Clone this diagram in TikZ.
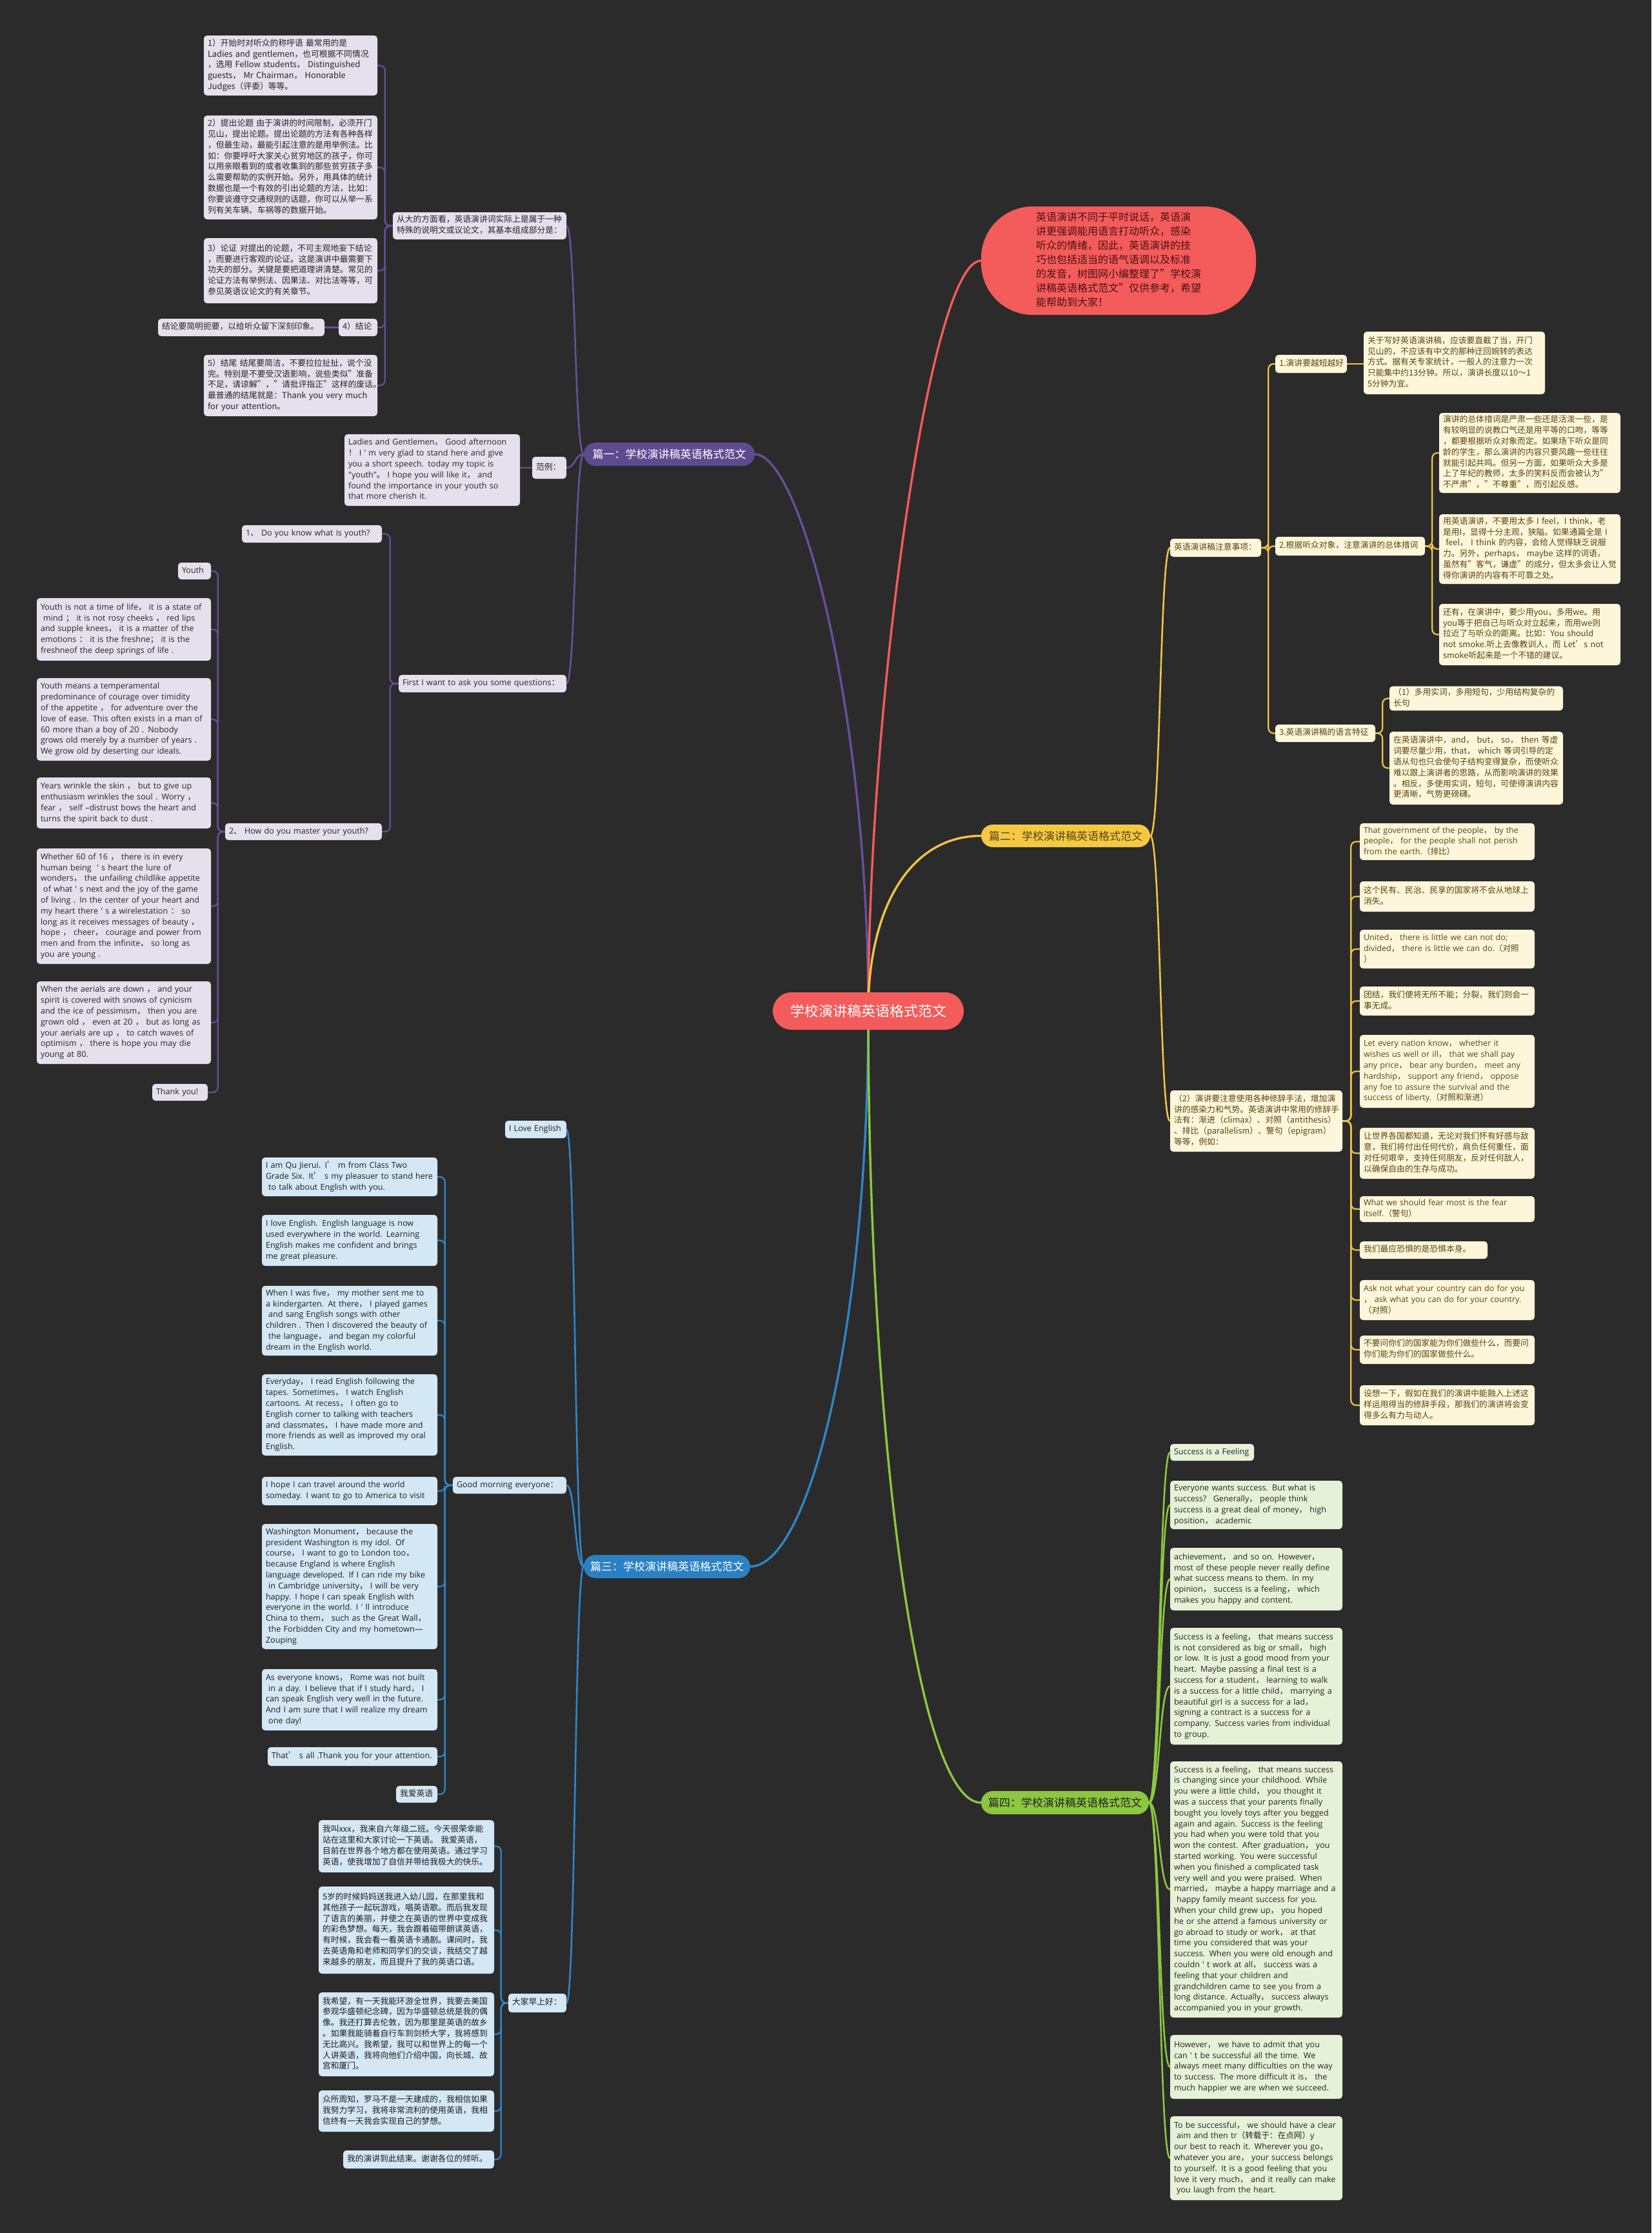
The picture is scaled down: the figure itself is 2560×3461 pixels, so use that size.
\documentclass[tikz,border=0pt]{standalone}
\usepackage{fontspec}
\setmainfont{Noto Sans CJK SC}
\newfontfamily\cjkf{Noto Sans CJK SC}
\newfontfamily\osans{Open Sans}
\usetikzlibrary{calc}
\pgfdeclarelayer{bgl}
\pgfdeclarelayer{edges}
\pgfsetlayers{bgl,edges,main}
\newcommand\fc[1]{{\cjkf #1}}
\catcode`，=13 \protected\def，{\fc{\char"FF0C }}
\catcode`；=13 \protected\def；{\fc{\char"FF1B }}
\catcode`：=13 \protected\def：{\fc{\char"FF1A }}
\catcode`（=13 \protected\def（{\fc{\char"FF08 }}
\catcode`）=13 \protected\def）{\fc{\char"FF09 }}
\catcode`、=13 \protected\def、{\fc{\char"3001 }}
\catcode`！=13 \protected\def！{\fc{\char"FF01 }}
\catcode`。=13 \protected\def。{\fc{\char"3002 }}
\definecolor{bgc}{HTML}{2B2B2B}
\definecolor{pline}{HTML}{64519A}
\definecolor{pfill}{HTML}{E4E0EC}
\definecolor{ptxt}{HTML}{262626}
\definecolor{ppill}{HTML}{5E4B8F}
\definecolor{yline}{HTML}{F0C445}
\definecolor{yfill}{HTML}{FDF6DA}
\definecolor{ytxt}{HTML}{5A4512}
\definecolor{ypill}{HTML}{F4C843}
\definecolor{bline}{HTML}{2E86C7}
\definecolor{bfill}{HTML}{D4E7F5}
\definecolor{btxt}{HTML}{1E1E1E}
\definecolor{bpill}{HTML}{2B80C3}
\definecolor{gline}{HTML}{8CC83F}
\definecolor{gfill}{HTML}{E6F2D7}
\definecolor{gtxt}{HTML}{222222}
\definecolor{gpill}{HTML}{8DC63F}
\definecolor{rfill}{HTML}{F45B5B}
\definecolor{rtxt}{HTML}{4A1212}
\tikzset{
  leafbase/.style={rounded corners=5pt, inner xsep=6pt, inner ysep=2pt, align=left,
    font=\fontsize{12.8}{16.8}\selectfont},
  leafP/.style={leafbase, fill=pfill, text=ptxt},
  leafY/.style={leafbase, fill=yfill, text=ytxt},
  leafB/.style={leafbase, fill=bfill, text=btxt},
  leafG/.style={leafbase, fill=gfill, text=gtxt},
  fEN/.style={font=\osans\fontsize{12.6}{16.8}\selectfont},
  pillS/.style={rounded corners=18pt, inner sep=0pt, font=\fontsize{17}{20}\selectfont},
  edgeA/.style={line width=3.4pt, line cap=round},
  edgeB/.style={line width=2.6pt, line cap=round},
  edgeC/.style={line width=2.2pt, line cap=round, rounded corners=8pt},
}
\newcommand\leaf[7]{%
  \pgfmathsetmacro\LFw{#5-#3}%
  \pgfmathsetmacro\LFh{#6-#4}%
  \pgfmathsetmacro\LFt{#5-#3-12}%
  \pgfmathsetmacro\LFx{(#3+#5)/2}%
  \pgfmathsetmacro\LFy{(#4+#6)/2}%
  \node[#1, minimum width=\LFw pt, minimum height=\LFh pt, text width=\LFt pt] (#2) at (\LFx,\LFy) {\begin{tabular}{@{}l@{}}#7\end{tabular}};%
}
\newcommand\pil[7]{%
  \pgfmathsetmacro\LFw{#5-#3}%
  \pgfmathsetmacro\LFh{#6-#4}%
  \pgfmathsetmacro\LFx{(#3+#5)/2}%
  \pgfmathsetmacro\LFy{(#4+#6)/2}%
  \node[#1, minimum width=\LFw pt, minimum height=\LFh pt] (#2) at (\LFx,\LFy) {#7};%
}
\newcommand\edL[4]{\draw[#1] (#2.west) -- ++(-#4,0) |- (#3.east);}
\newcommand\edR[4]{\draw[#1] (#2.east) -- ++(#4,0) |- (#3.west);}
\newcommand\cvL[4]{\draw[#1] (#2.west) .. controls +(-#4,0) and +(#4,0) .. (#3.east);}
\newcommand\cvR[4]{\draw[#1] (#2.east) .. controls +(#4,0) and +(-#4,0) .. (#3.west);}
\begin{document}
\begin{tikzpicture}[x=1pt,y=-1pt]
\begin{pgfonlayer}{bgl}
\fill[bgc] (0,0) rectangle (2560,3461);
\end{pgfonlayer}
\useasboundingbox (0,0) rectangle (2560,3461);

% ---------- centre and intro ----------
\pil{pillS, rounded corners=29pt, fill=rfill, text=white, font=\fontsize{22}{26}\selectfont}{ctr}{1198}{1538}{1494}{1596}{学校演讲稿英语格式范文}
\pil{fill=rfill, rounded corners=80pt, text=rtxt, inner sep=0pt, font=\fontsize{16}{22}\selectfont}{bub}{1521}{320}{1947}{488}{\begin{tabular}{@{}l@{}}英语演讲不同于平时说话，英语演\\讲更强调能用语言打动听众，感染\\听众的情绪，因此，英语演讲的技\\巧也包括适当的语气语调以及标准\\的发音，树图网小编整理了"学校演\\讲稿英语格式范文"仅供参考，希望\\能帮助到大家！\end{tabular}}

% ---------- branch 1 ----------
\pil{pillS, fill=ppill, text=white}{b1}{905}{686}{1170}{722}{篇一：学校演讲稿英语格式范文}
\leaf{leafP}{b1a}{609}{329}{878}{371}{从大的方面看，英语演讲词实际上是属于一种\\特殊的说明文或议论文，其基本组成部分是：}
\leaf{leafP}{i1}{316}{55}{585}{148}{1）开始时对听众的称呼语 最常用的是\\Ladies and gentlemen，也可根据不同情况\\，选用 Fellow students， Distinguished\\guests， Mr Chairman， Honorable\\Judges（评委）等等。}
\leaf{leafP}{i2}{316}{179}{585}{340}{2）提出论题 由于演讲的时间限制，必须开门\\见山，提出论题。提出论题的方法有各种各样\\，但最生动，最能引起注意的是用举例法。比\\如：你要呼吁大家关心贫穷地区的孩子，你可\\以用亲眼看到的或者收集到的那些贫穷孩子多\\么需要帮助的实例开始。另外，用具体的统计\\数据也是一个有效的引出论题的方法，比如：\\你要谈遵守交通规则的话题，你可以从举一系\\列有关车辆、车祸等的数据开始。}
\leaf{leafP}{i3}{316}{369}{585}{470}{3）论证 对提出的论题，不可主观地妄下结论\\，而要进行客观的论证。这是演讲中最需要下\\功夫的部分。关键是要把道理讲清楚。常见的\\论证方法有举例法、因果法、对比法等等，可\\参见英语议论文的有关章节。}
\leaf{leafP}{i4}{525}{494}{585}{521}{4）结论}
\leaf{leafP}{i4a}{245}{494}{503}{521}{结论要简明扼要，以给听众留下深刻印象。}
\leaf{leafP}{i5}{316}{550}{585}{645}{5）结尾 结尾要简洁，不要拉拉扯扯，说个没\\完。特别是不要受汉语影响，说些类似"准备\\不足，请谅解"，"请批评指正"这样的废话。\\最普通的结尾就是：Thank you very much\\for your attention。}
\leaf{leafP}{b1b}{825}{708}{878}{742}{范例：}
\leaf{leafP,fEN}{b1b1}{534}{673}{806}{784}{Ladies and Gentlemen， Good afternoon\\！ I ' m very glad to stand here and give\\you a short speech. today my topic is\\"youth"。 I hope you will like it， and\\found the importance in your youth so\\that more cherish it.}
\leaf{leafP,fEN}{b1c}{618}{1046}{878}{1073}{First I want to ask you some questions：}
\leaf{leafP,fEN}{q1}{375}{814}{592}{841}{1、 Do you know what is youth?}
\leaf{leafP,fEN}{q2}{349}{1276}{592}{1302}{2、 How do you master your youth?}
\leaf{leafP,fEN}{y0}{276}{872}{327}{898}{Youth}
\leaf{leafP,fEN}{y1}{57}{927}{327}{1024}{Youth is not a time of life， it is a state of\\\ mind ； it is not rosy cheeks ， red lips\\and supple knees， it is a matter of the\\emotions ： it is the freshne； it is the\\freshneof the deep springs of life .}
\leaf{leafP,fEN}{y2}{57}{1051}{327}{1179}{Youth means a temperamental\\predominance of courage over timidity\\of the appetite ， for adventure over the\\love of ease. This often exists in a man of\\60 more than a boy of 20 . Nobody\\grows old merely by a number of years .\\We grow old by deserting our ideals.}
\leaf{leafP,fEN}{y3}{57}{1205}{327}{1284}{Years wrinkle the skin ， but to give up\\enthusiasm wrinkles the soul . Worry ，\\fear ， self –distrust bows the heart and\\turns the spirit back to dust .}
\leaf{leafP,fEN}{y4}{57}{1315}{327}{1494}{Whether 60 of 16 ， there is in every\\human being \ ' s heart the lure of\\wonders， the unfailing childlike appetite\\\ of what ' s next and the joy of the game\\of living . In the center of your heart and\\my heart there ' s a wirelestation ： so\\long as it receives messages of beauty ，\\hope ， cheer， courage and power from\\men and from the infinite， so long as\\you are young .}
\leaf{leafP,fEN}{y5}{57}{1521}{327}{1649}{When the aerials are down ， and your\\spirit is covered with snows of cynicism\\and the ice of pessimism， then you are\\grown old ， even at 20 ， but as long as\\your aerials are up ， to catch waves of\\optimism ， there is hope you may die\\young at 80.}
\leaf{leafP,fEN}{y6}{236}{1680}{322}{1706}{Thank you!}

% ---------- branch 2 ----------
\pil{pillS, fill=ypill, text=ytxt}{b2}{1521}{1278}{1783}{1313}{篇二：学校演讲稿英语格式范文}
\leaf{leafY}{n1}{1814}{835}{1955}{863}{英语演讲稿注意事项：}
\leaf{leafY}{n11}{1977}{550}{2088}{578}{1.演讲要越短越好}
\leaf{leafY}{n11a}{2114}{514}{2395}{611}{关于写好英语演讲稿，应该要直截了当，开门\\见山的，不应该有中文的那种迂回婉转的表达\\方式。据有关专家统计，一般人的注意力一次\\只能集中约13分钟。所以，演讲长度以10～1\\5分钟为宜。}
\leaf{leafY}{n12}{1977}{832}{2209}{861}{2.根据听众对象，注意演讲的总体措词}
\leaf{leafY}{n12a}{2231}{640}{2512}{764}{演讲的总体措词是严肃一些还是活泼一些，是\\有较明显的说教口气还是用平等的口吻，等等\\，都要根据听众对象而定。如果场下听众是同\\龄的学生，那么演讲的内容只要风趣一些往往\\就能引起共鸣。但另一方面，如果听众大多是\\上了年纪的教师，太多的笑料反而会被认为"\\不严肃"，"不尊重"，而引起反感。}
\leaf{leafY}{n12b}{2231}{797}{2512}{905}{用英语演讲，不要用太多 I feel，I think，老\\是用I，显得十分主观，狭隘。如果通篇全是 I\\\ feel， I think 的内容，会给人觉得缺乏说服\\力。另外，perhaps， maybe 这样的词语，\\虽然有"客气，谦虚"的成分，但太多会让人觉\\得你演讲的内容有不可靠之处。}
\leaf{leafY}{n12c}{2231}{936}{2512}{1031}{还有，在演讲中，要少用you，多用we。用\\you等于把自己与听众对立起来，而用we则\\拉近了与听众的距离。比如：You should\\not smoke.听上去像教训人，而 Let's not\\smoke听起来是一个不错的建议。}
\leaf{leafY}{n13}{1977}{1123}{2132}{1150}{3.英语演讲稿的语言特征}
\leaf{leafY}{n13a}{2154}{1064}{2423}{1101}{（1）多用实词，多用短句，少用结构复杂的\\长句}
\leaf{leafY}{n13b}{2154}{1134}{2423}{1247}{在英语演讲中，and， but， so， then 等虚\\词要尽量少用，that， which 等词引导的定\\语从句也只会使句子结构变得复杂，而使听众\\难以跟上演讲者的思路，从而影响演讲的效果\\。相反，多使用实词，短句，可使得演讲内容\\更清晰，气势更磅礴。}
\leaf{leafY}{n2}{1814}{1690}{2081}{1785}{（2）演讲要注意使用各种修辞手法，增加演\\讲的感染力和气势。英语演讲中常用的修辞手\\法有：渐进（climax）、对照（antithesis）\\、排比（parallelism）、警句（epigram）\\等等，例如：}
\leaf{leafY,fEN}{r1}{2108}{1276}{2379}{1333}{That government of the people， by the\\people， for the people shall not perish\\from the earth.（\fc{排比}）}
\leaf{leafY}{r2}{2108}{1366}{2379}{1413}{这个民有、民治、民享的国家将不会从地球上\\消失。}
\leaf{leafY,fEN}{r3}{2108}{1441}{2379}{1501}{United， there is little we can not do;\\divided， there is little we can do.（\fc{对照}\\）}
\leaf{leafY}{r4}{2108}{1529}{2379}{1574}{团结，我们便将无所不能；分裂，我们则会一\\事无成。}
\leaf{leafY,fEN}{r5}{2108}{1604}{2379}{1717}{Let every nation know， whether it\\wishes us well or ill， that we shall pay\\any price， bear any burden， meet any\\hardship， support any friend， oppose\\any foe to assure the survival and the\\success of liberty.（\fc{对照和渐进}）}
\leaf{leafY}{r6}{2108}{1748}{2379}{1827}{让世界各国都知道，无论对我们怀有好感与敌\\意，我们将付出任何代价，肩负任何重任，面\\对任何艰辛，支持任何朋友，反对任何敌人，\\以确保自由的生存与成功。}
\leaf{leafY,fEN}{r7}{2108}{1854}{2379}{1894}{What we should fear most is the fear\\itself.（\fc{警句}）}
\leaf{leafY}{r8}{2108}{1924}{2306}{1951}{我们最应恐惧的是恐惧本身。}
\leaf{leafY,fEN}{r9}{2108}{1984}{2379}{2046}{Ask not what your country can do for you\\， ask what you can do for your country.\\（\fc{对照}）}
\leaf{leafY}{r10}{2108}{2070}{2379}{2114}{不要问你们的国家能为你们做些什么，而要问\\你们能为你们的国家做些什么。}
\leaf{leafY}{r11}{2108}{2147}{2379}{2209}{设想一下，假如在我们的演讲中能融入上述这\\样运用得当的修辞手段，那我们的演讲将会变\\得多么有力与动人。}

% ---------- branch 3 ----------
\pil{pillS, fill=bpill, text=white}{b3}{905}{2410}{1163}{2446}{篇三：学校演讲稿英语格式范文}
\leaf{leafB,fEN}{e0}{783}{1737}{878}{1764}{I Love English}
\leaf{leafB,fEN}{e1}{702}{2289}{878}{2315}{Good morning everyone：}
\leaf{leafB}{e2}{788}{3090}{878}{3119}{大家早上好：}
\leaf{leafB,fEN}{g1}{406}{1794}{678}{1854}{I am Qu Jierui. I\fc{’} m from Class Two\\Grade Six. It\fc{’} s my pleasuer to stand here\\\ to talk about English with you.}
\leaf{leafB,fEN}{g2}{406}{1883}{678}{1962}{I love English. English language is now\\used everywhere in the world. Learning\\English makes me confident and brings\\me great pleasure.}
\leaf{leafB,fEN}{g3}{406}{1993}{678}{2101}{When I was five， my mother sent me to\\a kindergarten. At there， I played games\\\ and sang English songs with other\\children . Then I discovered the beauty of\\\ the language， and began my colorful\\dream in the English world.}
\leaf{leafB,fEN}{g4}{406}{2130}{678}{2256}{Everyday， I read English following the\\tapes. Sometimes， I watch English\\cartoons. At recess， I often go to\\English corner to talking with teachers\\and classmates， I have made more and\\more friends as well as improved my oral\\English.}
\leaf{leafB,fEN}{g5}{406}{2289}{678}{2333}{I hope I can travel around the world\\someday. I want to go to America to visit}
\leaf{leafB,fEN}{g6}{406}{2362}{678}{2556}{Washington Monument， because the\\president Washington is my idol. Of\\course， I want to go to London too，\\because England is where English\\language developed. If I can ride my bike\\\ in Cambridge university， I will be very\\happy. I hope I can speak English with\\everyone in the world. I ' ll introduce\\China to them， such as the Great Wall，\\\ the Forbidden City and my hometown—\\Zouping}
\leaf{leafB,fEN}{g7}{406}{2587}{678}{2682}{As everyone knows， Rome was not built\\\ in a day. I believe that if I study hard， I\\can speak English very well in the future.\\And I am sure that I will realize my dream\\\ one day!}
\leaf{leafB,fEN}{g8}{415}{2708}{678}{2737}{That\fc{’} s all .Thank you for your attention.}
\leaf{leafB}{g9}{614}{2768}{678}{2794}{我爱英语}
\leaf{leafB}{h1}{494}{2821}{766}{2902}{我叫xxx，我来自六年级二班。今天很荣幸能\\站在这里和大家讨论一下英语。 我爱英语，\\目前在世界各个地方都在使用英语。通过学习\\英语，使我增加了自信并带给我极大的快乐。}
\leaf{leafB}{h2}{494}{2924}{766}{3059}{5岁的时候妈妈送我进入幼儿园，在那里我和\\其他孩子一起玩游戏，唱英语歌。而后我发现\\了语言的美丽，并使之在英语的世界中变成我\\的彩色梦想。每天，我会跟着磁带朗读英语，\\有时候，我会看一看英语卡通剧。课间时，我\\去英语角和老师和同学们的交谈，我结交了越\\来越多的朋友，而且提升了我的英语口语。}
\leaf{leafB}{h3}{494}{3088}{766}{3218}{我希望，有一天我能环游全世界，我要去美国\\参观华盛顿纪念碑，因为华盛顿总统是我的偶\\像。我还打算去伦敦，因为那里是英语的故乡\\。如果我能骑着自行车到剑桥大学，我将感到\\无比高兴。我希望，我可以和世界上的每一个\\人讲英语，我将向他们介绍中国，向长城、故\\宫和厦门。}
\leaf{leafB}{h4}{494}{3240}{766}{3304}{众所周知，罗马不是一天建成的，我相信如果\\我努力学习，我将非常流利的使用英语，我相\\信终有一天我会实现自己的梦想。}
\leaf{leafB}{h5}{532}{3333}{766}{3361}{我的演讲到此结束。谢谢各位的倾听。}

% ---------- branch 4 ----------
\pil{pillS, fill=gpill, text=gtxt}{b4}{1521}{2776}{1781}{2812}{篇四：学校演讲稿英语格式范文}
\leaf{leafG,fEN}{s0}{1814}{2238}{1944}{2264}{Success is a Feeling}
\leaf{leafG,fEN}{s1}{1814}{2295}{2081}{2370}{Everyone wants success. But what is\\success? \ Generally， people think\\success is a great deal of money， high\\position， academic}
\leaf{leafG,fEN}{s2}{1814}{2399}{2081}{2496}{achievement， and so on. However，\\most of these people never really define\\what success means to them. In my\\opinion， success is a feeling， which\\makes you happy and content.}
\leaf{leafG,fEN}{s3}{1814}{2523}{2081}{2704}{Success is a feeling， that means success\\is not considered as big or small， high\\or low. It is just a good mood from your\\heart. Maybe passing a final test is a\\success for a student， learning to walk\\is a success for a little child， marrying a\\beautiful girl is a success for a lad，\\signing a contract is a success for a\\company. Success varies from individual\\to group.}
\leaf{leafG,fEN}{s4}{1814}{2730}{2081}{3127}{Success is a feeling， that means success\\is changing since your childhood. While\\you were a little child， you thought it\\was a success that your parents finally\\bought you lovely toys after you begged\\again and again. Success is the feeling\\you had when you were told that you\\won the contest. After graduation， you\\started working. You were successful\\when you finished a complicated task\\very well and you were praised. When\\married， maybe a happy marriage and a\\\ happy family meant success for you.\\When your child grew up， you hoped\\he or she attend a famous university or\\go abroad to study or work， at that\\time you considered that was your\\success. When you were old enough and\\couldn ' t work at all， success was a\\feeling that your children and\\grandchildren came to see you from a\\long distance. Actually， success always\\accompanied you in your growth.}
\leaf{leafG,fEN}{s5}{1814}{3154}{2081}{3253}{However， we have to admit that you\\can ' t be successful all the time. We\\always meet many difficulties on the way\\to success. The more difficult it is， the\\much happier we are when we succeed.}
\leaf{leafG,fEN}{s6}{1814}{3280}{2081}{3410}{To be successful， we should have a clear\\\ aim and then tr（\fc{转载于}：\fc{在点网}）y\\our best to reach it. Wherever you go，\\whatever you are， your success belongs\\to yourself. It is a good feeling that you\\love it very much， and it really can make\\\ you laugh from the heart.}

% ---------- connectors ----------
\begin{pgfonlayer}{edges}
\draw[edgeA, pline] (ctr.center) .. controls +(0,-470) and +(70,0) .. (b1.east);
\draw[edgeA, rfill] (ctr.center) .. controls +(0,-470) and +(-80,0) .. (bub.west);
\draw[edgeA, yline] (ctr.center) .. controls +(0,-160) and +(-110,0) .. (b2.west);
\draw[edgeA, bline] (ctr.center) .. controls +(0,500) and +(90,0) .. (b3.east);
\draw[edgeA, gline] (ctr.center) .. controls +(0,650) and +(-100,0) .. (b4.west);
% branch 1
\cvL{edgeB, pline}{b1}{b1a}{14}
\cvL{edgeB, pline}{b1}{b1b}{14}
\cvL{edgeB, pline}{b1}{b1c}{14}
\foreach \c in {i1,i2,i3,i4,i5} {\edL{edgeC, pline}{b1a}{\c}{12}}
\draw[edgeC, pline] (i4.west) -- (i4.west -| i4a.east);
\draw[edgeC, pline] (b1b.west) -- (b1b.west -| b1b1.east);
\edL{edgeC, pline}{b1c}{q1}{13}
\edL{edgeC, pline}{b1c}{q2}{13}
\foreach \c in {y0,y1,y2,y3,y4,y5,y6} {\edL{edgeC, pline}{q2}{\c}{11}}
% branch 2
\cvR{edgeB, yline}{b2}{n1}{16}
\cvR{edgeB, yline}{b2}{n2}{16}
\foreach \c in {n11,n12,n13} {\edR{edgeC, yline}{n1}{\c}{11}}
\draw[edgeC, yline] (n11.east) -- (n11.east -| n11a.west);
\foreach \c in {n12a,n12b,n12c} {\edR{edgeC, yline}{n12}{\c}{11}}
\foreach \c in {n13a,n13b} {\edR{edgeC, yline}{n13}{\c}{11}}
\foreach \c in {r1,r2,r3,r4,r5,r6,r7,r8,r9,r10,r11} {\edR{edgeC, yline}{n2}{\c}{13}}
% branch 3
\cvL{edgeB, bline}{b3}{e0}{14}
\cvL{edgeB, bline}{b3}{e1}{14}
\cvL{edgeB, bline}{b3}{e2}{14}
\foreach \c in {g1,g2,g3,g4,g5,g6,g7,g8,g9} {\edL{edgeC, bline}{e1}{\c}{12}}
\foreach \c in {h1,h2,h3,h4,h5} {\edL{edgeC, bline}{e2}{\c}{11}}
% branch 4
\foreach \c in {s0,s1,s2,s3,s4,s5,s6} {\cvR{edgeB, gline}{b4}{\c}{17}}
\end{pgfonlayer}
\end{tikzpicture}
\end{document}
